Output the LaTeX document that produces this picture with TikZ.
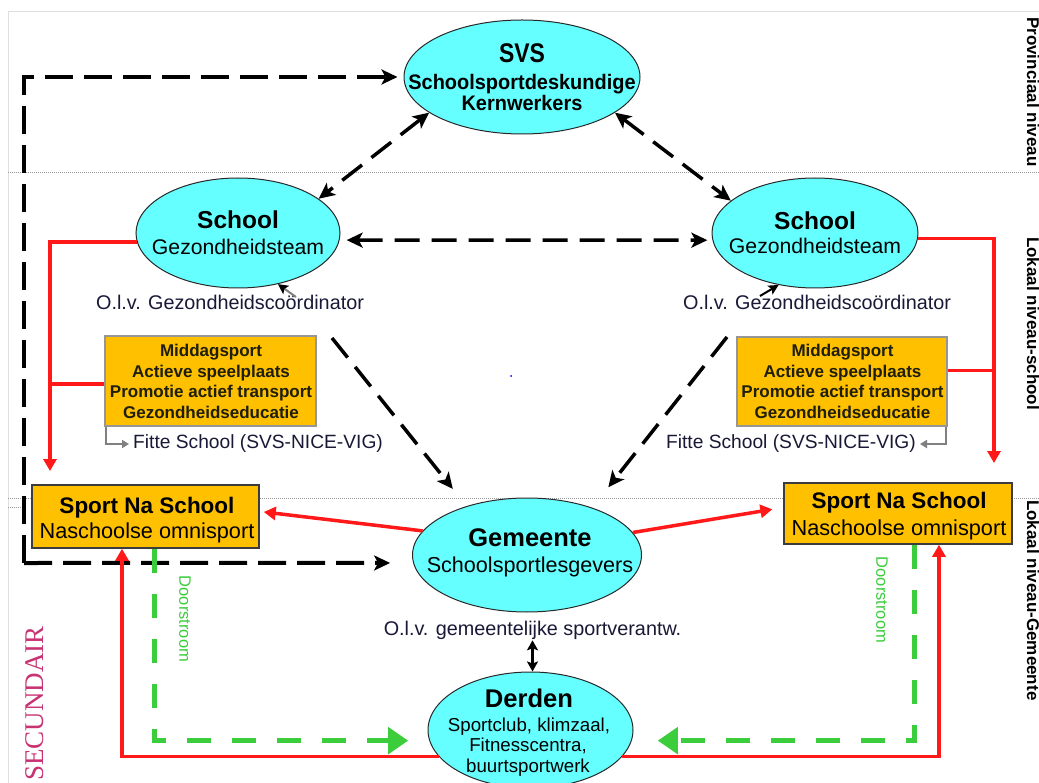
\documentclass[tikz,border=0pt]{standalone}
\usepackage{fontspec}
\setmainfont{Liberation Sans}
\newfontfamily\svsfont{Liberation Sans}[FakeStretch=0.85]
\newfontfamily\svsfontb{Liberation Sans}[FakeStretch=0.95]
\newfontfamily\seriffam{Liberation Serif}
\usetikzlibrary{arrows.meta,calc,shapes.geometric}
\definecolor{cyanf}{RGB}{102,255,255}
\definecolor{orng}{RGB}{255,192,0}
\definecolor{redl}{RGB}{255,25,25}
\definecolor{grnl}{RGB}{60,205,60}
\definecolor{navy}{RGB}{25,25,55}
\definecolor{secc}{RGB}{200,50,115}
\definecolor{boxedge}{RGB}{150,150,150}
\definecolor{snsedge}{RGB}{60,60,60}
\definecolor{elledge}{RGB}{40,40,40}
\newcommand\fsz[2]{\fontsize{#1}{#2}\selectfont}
\begin{document}
\begin{tikzpicture}[x=1pt,y=-1pt,
  ell/.style={ellipse, draw=elledge, line width=1pt, fill=cyanf, inner sep=0pt},
  actbox/.style={rectangle, draw=boxedge, line width=1.3pt, fill=orng, inner sep=0pt},
  snsbox/.style={rectangle, draw=snsedge, line width=1.5pt, fill=orng, inner sep=0pt},
  txt/.style={inner sep=1pt, text=black},
  navytxt/.style={inner sep=1pt, text=navy},
  acttxt/.style={inner sep=1pt, text={rgb,255:red,30;green,30;blue,10}, font=\fsz{17}{20}\bfseries},
  rlab/.style={inner sep=0pt, rotate=-90, font=\fsz{17}{20}\bfseries, text=black},
  blk/.style={draw=black, line width=3.5pt, dash pattern=on 25pt off 12pt,
     arrows={-}, >={Stealth[length=16pt,width=15pt,inset=4pt]}},
  frame/.style={draw=black, line width=4pt, dash pattern=on 28pt off 11pt,
     >={Stealth[length=16pt,width=15pt,inset=4pt]}},
  redarr/.style={draw=redl, line width=3.5pt, >={Triangle[length=12pt,width=13pt]}},
  grn/.style={draw=grnl, line width=5pt, dash pattern=on 24pt off 21pt,
     >={Triangle[length=20pt,width=26pt]}},
  gry/.style={draw=gray, line width=2pt, >={Triangle[length=7pt,width=8pt]}},
  small/.style={draw=black, line width=2.5pt, >={Stealth[length=10pt,width=11pt,inset=2pt]}},
  dotline/.style={draw=gray!80, line width=1pt, dash pattern=on 1pt off 1pt}
]
\useasboundingbox (0,0) rectangle (1039,783);
\fill[white] (0,0) rectangle (1039,783);
% border and level lines
\draw[gray!25, line width=1pt] (8,783) -- (8,12) -- (1039,12);
\draw[dotline] (8,173) -- (1039,173);
\draw[dotline] (8,498) -- (1039,498);
\draw[dotline] (8,507) -- (22,507);

% ellipses
\node[ell, minimum width=236pt, minimum height=114pt] (svs) at (522,77) {};
\node[ell, minimum width=204pt, minimum height=110pt] (schoolL) at (238,233) {};
\node[ell, minimum width=206pt, minimum height=110pt] (schoolR) at (815,233) {};
\node[ell, minimum width=229pt, minimum height=114pt] (gem) at (527,555) {};
\node[ell, minimum width=205pt, minimum height=116pt] (derden) at (530.5,730) {};

% boxes
\node[actbox, minimum width=211pt, minimum height=90pt] (actL) at (210.5,381) {};
\node[actbox, minimum width=210pt, minimum height=89pt] (actR) at (842,381.5) {};
\node[snsbox, minimum width=227pt, minimum height=63pt] (snsL) at (145.5,516.5) {};
\node[snsbox, minimum width=228pt, minimum height=61pt] (snsR) at (898,513.5) {};

% SVS text
\node[txt, anchor=base] (svsA) at (522,63) {\svsfont\fsz{27}{30}\bfseries SVS};
\node[txt, anchor=base] (svsB) at (522,90) {\svsfontb\fsz{21}{24}\bfseries Schoolsportdeskundige};
\node[txt, anchor=base] (svsC) at (522,111) {\svsfontb\fsz{21}{24}\bfseries Kernwerkers};

% School texts
\node[txt, anchor=base] (sLA) at (238,229) {\fsz{24.5}{28}\bfseries School};
\node[txt, anchor=base] (sLB) at (238,255) {\fsz{21.2}{24}Gezondheidsteam};
\node[txt, anchor=base] (sRA) at (815,230) {\fsz{24.5}{28}\bfseries School};
\node[txt, anchor=base] (sRB) at (815,254) {\fsz{21.2}{24}Gezondheidsteam};
\node[navytxt, anchor=base] (olvL) at (230,310) {\fsz{19.8}{23}O.l.v. Gezondheidsco\"ordinator};
\node[navytxt, anchor=base] (olvR) at (817,310) {\fsz{19.8}{23}O.l.v. Gezondheidsco\"ordinator};

% activity texts
\node[acttxt, anchor=base] (aL1) at (211,357) {Middagsport};
\node[acttxt, anchor=base] (aL2) at (211,378) {Actieve speelplaats};
\node[acttxt, anchor=base] (aL3) at (211,398) {Promotie actief transport};
\node[acttxt, anchor=base] (aL4) at (211,418.5) {Gezondheidseducatie};
\node[acttxt, anchor=base] (aR1) at (842.5,357) {Middagsport};
\node[acttxt, anchor=base] (aR2) at (842.5,378) {Actieve speelplaats};
\node[acttxt, anchor=base] (aR3) at (842.5,398) {Promotie actief transport};
\node[acttxt, anchor=base] (aR4) at (842.5,418.5) {Gezondheidseducatie};
\node[navytxt, anchor=base west] (fitL) at (132,449) {\fsz{19.2}{22}Fitte School (SVS-NICE-VIG)};
\node[navytxt, anchor=base east] (fitR) at (917,449) {\fsz{19.2}{22}Fitte School (SVS-NICE-VIG)};

% Sport Na School texts
\node[txt, anchor=base] (nLA) at (147,513) {\fsz{22.5}{25}\bfseries Sport Na School};
\node[txt, anchor=base] (nLB) at (147,538) {\fsz{21.7}{25}Naschoolse omnisport};
\node[txt, anchor=base] (nRA) at (899,508) {\fsz{22.5}{25}\bfseries Sport Na School};
\node[txt, anchor=base] (nRB) at (899,535) {\fsz{21.7}{25}Naschoolse omnisport};

% Gemeente and Derden texts
\node[txt, anchor=base] (gA) at (530,546) {\fsz{25.5}{28}\bfseries Gemeente};
\node[txt, anchor=base] (gB) at (530,572) {\fsz{21.6}{24}Schoolsportlesgevers};
\node[navytxt, anchor=base] (gOlv) at (532.5,635) {\fsz{19.8}{23}O.l.v. gemeentelijke sportverantw.};
\node[txt, anchor=base] (dA) at (529,707) {\fsz{25.6}{28}\bfseries Derden};
\node[txt, anchor=base] (dB) at (529,731) {\fsz{18.7}{20}Sportclub, klimzaal,};
\node[txt, anchor=base] (dC) at (528,751) {\fsz{18.7}{20}Fitnesscentra,};
\node[txt, anchor=base] (dD) at (528,772) {\fsz{18.7}{20}buurtsportwerk};

% side labels
\node[rlab, anchor=base west] (lvP) at (1027,17) {Provinciaal niveau};
\node[rlab, anchor=base west] (lvS) at (1027,237) {Lokaal niveau-school};
\node[rlab, anchor=base west] (lvG) at (1027,500) {Lokaal niveau-Gemeente};
\node[inner sep=0pt, rotate=90, anchor=base east, text=secc] (sec) at (43,626) {\seriffam\fsz{27}{30}SECUNDAIR};
\node[inner sep=0pt, rotate=-90, text=grnl] (dsL) at (185,619) {\fsz{16.5}{19}Doorstroom};
\node[inner sep=0pt, rotate=-90, text=grnl] (dsR) at (882,600) {\fsz{16.5}{19}Doorstroom};

% tiny blue dot
\fill[blue] (511,376) circle (1pt);

% big dashed frame
\coordinate (fA) at (24,563);
\coordinate (fB) at (24,77);
\draw[frame,->,shorten >=6pt] (fA) -- (fB) -- (svs.west);
\draw[frame,->,shorten >=23pt] (fA) -- (gem.184);

% triangle of dashed arrows
\draw[blk,<->] (svs.201) -- (schoolL.23);
\draw[blk,<->] (svs.339) -- (schoolR.159);
\draw[blk,<->,shorten <=7pt,shorten >=5pt] (schoolL.-4) -- (schoolR.184);
\coordinate (dL) at (332,338);
\coordinate (dR) at (727,337);
\draw[blk,->,shorten >=22pt] (dL) -- (gem.141);
\draw[blk,->,shorten >=26pt] (dR) -- (gem.36);

% small arrows from coordinators
\coordinate (sL) at (296,297);
\coordinate (sR) at (760,296);
\draw[draw=gray, line width=2pt, -{Stealth[length=10pt,width=10pt,inset=2pt,black]}] (sL) -- (schoolL.-52);
\draw[draw=black, line width=2pt, -{Stealth[length=10pt,width=10pt,inset=2pt]}] (sR) -- (schoolR.235);

% red connectors
\coordinate (rL) at (50,471);
\coordinate (rR) at (994,463);
\coordinate (pL) at ([yshift=-3pt]actL.west);
\coordinate (pR) at ([yshift=11pt]actR.east);
\draw[redarr,->] (schoolL.185) -| (rL);
\draw[redarr] (pL) -- (rL |- pL);
\draw[redarr,->] (schoolR.-3) -| (rR);
\draw[redarr] (pR) -- (rR |- pR);
\draw[redarr,->,shorten >=4pt] (gem.167) -- ([yshift=5pt]snsL.east);
\draw[redarr,->,shorten >=11pt] (gem.12) -- ([yshift=6pt]snsR.west);
\draw[redarr,->] (derden.196) -| ([xshift=-23.5pt]snsL.south);
\draw[redarr,->] (derden.-16) -| ([xshift=41pt]snsR.south);

% green doorstroom
\draw[grn,->,shorten >=21pt] ([xshift=8.5pt]snsL.south) |- (derden.186);
\draw[grn,->,shorten >=26pt] ([xshift=16pt]snsR.south) |- (derden.-6);

% Fitte school elbows
\draw[gry,->,shorten >=3pt] ([xshift=1.5pt]actL.south west) |- (fitL.west);
\draw[gry,->,shorten >=3pt] ([xshift=-1.5pt]actR.south east) |- (fitR.east);

% Gemeente - Derden
\draw[small,<->] (gOlv.south) -- (gOlv.south |- derden.north);
\end{tikzpicture}
\end{document}
